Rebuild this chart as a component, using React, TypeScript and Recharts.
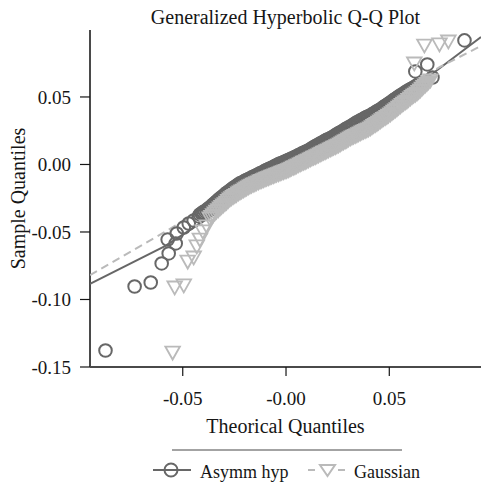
import { ScatterChart, Scatter, XAxis, YAxis, Legend } from "recharts";

const FONT = '"Liberation Serif", "Times New Roman", serif';
const DARK = "#676767";
const LIGHT = "#bababa";
const INK = "#161616";
const AXIS = "#4a4a4a";

const chartTitle = "Generalized Hyperbolic Q-Q Plot";
const xTitle = "Theorical Quantiles";
const yTitle = "Sample Quantiles";
const seriesNames = ["Asymm hyp", "Gaussian"];

const xTicks = [-0.05, 0, 0.05];
const xTickLabels = ["-0.05", "-0.00", "0.05"];
const yTicks = [-0.15, -0.1, -0.05, 0, 0.05];
const yTickLabels = ["-0.15", "-0.10", "-0.05", "0.00", "0.05"];

// asymmetric hyperbolic fit: theoretical vs sample quantiles
const hypTheoretical = [
  -0.0874, -0.0733, -0.0655, -0.0602, -0.0573, -0.0568, -0.0534, -0.0529, -0.0495, -0.0471, -0.0447, -0.0422,
  -0.0417, -0.0409, -0.0401, -0.0393, -0.0385, -0.0377, -0.0369, -0.0361, -0.0353, -0.0345, -0.0337, -0.0328,
  -0.032, -0.0312, -0.0304, -0.0296, -0.0288, -0.028, -0.0272, -0.0264, -0.0256, -0.0248, -0.024, -0.0231,
  -0.0223, -0.0215, -0.0207, -0.0199, -0.0191, -0.0183, -0.0175, -0.0167, -0.0159, -0.0151, -0.0143, -0.0134,
  -0.0126, -0.0118, -0.011, -0.0102, -0.0094, -0.0086, -0.0078, -0.007, -0.0062, -0.0054, -0.0046, -0.0037,
  -0.0029, -0.0021, -0.0013, -0.0005, 0.0003, 0.0011, 0.0019, 0.0027, 0.0035, 0.0043, 0.0051, 0.0059,
  0.0068, 0.0076, 0.0084, 0.0092, 0.01, 0.0108, 0.0117, 0.0125, 0.0133, 0.0141, 0.0149, 0.0157,
  0.0165, 0.0173, 0.0181, 0.0189, 0.0197, 0.0205, 0.0214, 0.0222, 0.023, 0.0238, 0.0246, 0.0254,
  0.0262, 0.027, 0.0278, 0.0286, 0.0294, 0.0302, 0.0311, 0.0319, 0.0327, 0.0335, 0.0343, 0.0351,
  0.0359, 0.0367, 0.0375, 0.0383, 0.0391, 0.0399, 0.0408, 0.0416, 0.0424, 0.0432, 0.044, 0.0448,
  0.0456, 0.0464, 0.0472, 0.048, 0.0488, 0.0496, 0.0505, 0.0513, 0.0521, 0.0529, 0.0537, 0.0545,
  0.0553, 0.0561, 0.0569, 0.0577, 0.0585, 0.0593, 0.0602, 0.061, 0.0618, 0.0626, 0.0634, 0.0642,
  0.065, 0.0626, 0.0684, 0.0709, 0.0864,
];
const hypSample = [
  -0.1378, -0.0904, -0.0874, -0.0733, -0.0556, -0.0659, -0.0585, -0.0511, -0.0467, -0.0437, -0.0415, -0.0385,
  -0.037, -0.0362, -0.0353, -0.0346, -0.0338, -0.0327, -0.0319, -0.0308, -0.0296, -0.0286, -0.0275, -0.0263,
  -0.0252, -0.0243, -0.0233, -0.0221, -0.0211, -0.0203, -0.0194, -0.0184, -0.0175, -0.0167, -0.0158, -0.0148,
  -0.014, -0.0135, -0.0129, -0.0121, -0.0115, -0.011, -0.0104, -0.0097, -0.0091, -0.0086, -0.008, -0.0072,
  -0.0066, -0.0061, -0.0055, -0.0047, -0.0041, -0.0036, -0.003, -0.0025, -0.0019, -0.0012, -0.0006, 0.0001,
  0.0007, 0.0011, 0.0016, 0.0022, 0.0027, 0.0033, 0.0038, 0.0043, 0.0049, 0.0055, 0.0061, 0.0068,
  0.0074, 0.0081, 0.0087, 0.0092, 0.0098, 0.0104, 0.0111, 0.012, 0.0127, 0.0134, 0.0141, 0.0148,
  0.0155, 0.0161, 0.0168, 0.0176, 0.0182, 0.0187, 0.0193, 0.02, 0.0207, 0.0216, 0.0223, 0.023,
  0.0237, 0.0244, 0.0251, 0.026, 0.0267, 0.0274, 0.0281, 0.0288, 0.0296, 0.0305, 0.0312, 0.0318,
  0.0325, 0.0331, 0.0338, 0.0345, 0.0352, 0.0357, 0.0363, 0.0371, 0.0378, 0.0386, 0.0393, 0.04,
  0.0407, 0.0416, 0.0425, 0.0433, 0.0441, 0.045, 0.0459, 0.0468, 0.0477, 0.0485, 0.0493, 0.0502,
  0.0511, 0.0518, 0.0525, 0.0534, 0.0542, 0.0549, 0.0556, 0.0563, 0.057, 0.0578, 0.0586, 0.0593,
  0.06, 0.0689, 0.0741, 0.0644, 0.0919,
];

// gaussian fit
const gaussTheoretical = [
  -0.0549, -0.0539, -0.0495, -0.0476, -0.0447, -0.0432, -0.0417, -0.0403, -0.0383,
  -0.0369, -0.0361, -0.0353, -0.0345, -0.0337, -0.0328, -0.032, -0.0312, -0.0304, -0.0296, -0.0288, -0.028,
  -0.0272, -0.0264, -0.0256, -0.0248, -0.024, -0.0231, -0.0223, -0.0215, -0.0207, -0.0199, -0.0191, -0.0183,
  -0.0175, -0.0167, -0.0159, -0.0151, -0.0143, -0.0134, -0.0126, -0.0118, -0.011, -0.0102, -0.0094, -0.0086,
  -0.0078, -0.007, -0.0062, -0.0054, -0.0046, -0.0037, -0.0029, -0.0021, -0.0013, -0.0005, 0.0003, 0.0011,
  0.0019, 0.0027, 0.0035, 0.0043, 0.0051, 0.0059, 0.0068, 0.0076, 0.0084, 0.0092, 0.01, 0.0108,
  0.0117, 0.0125, 0.0133, 0.0141, 0.0149, 0.0157, 0.0165, 0.0173, 0.0181, 0.0189, 0.0197, 0.0205,
  0.0214, 0.0222, 0.023, 0.0238, 0.0246, 0.0254, 0.0262, 0.027, 0.0278, 0.0286, 0.0294, 0.0302,
  0.0311, 0.0319, 0.0327, 0.0335, 0.0343, 0.0351, 0.0359, 0.0367, 0.0375, 0.0383, 0.0391, 0.0399,
  0.0408, 0.0416, 0.0424, 0.0432, 0.044, 0.0448, 0.0456, 0.0464, 0.0472, 0.048, 0.0488, 0.0496,
  0.0505, 0.0513, 0.0521, 0.0529, 0.0537, 0.0545, 0.0553, 0.0561, 0.0569, 0.0577, 0.0585, 0.0593,
  0.0602, 0.061, 0.0618, 0.0626, 0.0634, 0.0642, 0.065, 0.0658, 0.0666, 0.0674, 0.0682, 0.069,
  0.0699, 0.0621, 0.067, 0.0743, 0.0786,
];
const gaussSample = [
  -0.1393, -0.0911, -0.0896, -0.0719, -0.0689, -0.0607, -0.0556, -0.0496, -0.0459,
  -0.04, -0.0388, -0.0376, -0.0362, -0.035, -0.0338, -0.0326, -0.0315, -0.0303, -0.0293, -0.0282, -0.027,
  -0.0259, -0.025, -0.0241, -0.0233, -0.0225, -0.0215, -0.0207, -0.02, -0.0193, -0.0185, -0.0177, -0.017,
  -0.0163, -0.0157, -0.015, -0.0145, -0.0139, -0.0132, -0.0126, -0.0122, -0.0117, -0.0111, -0.0105, -0.0101,
  -0.0096, -0.0091, -0.0087, -0.0081, -0.0076, -0.0072, -0.0067, -0.0061, -0.0056, -0.0052, -0.0047, -0.0042,
  -0.0037, -0.003, -0.0024, -0.0019, -0.0013, -0.0006, 0.0, 0.0007, 0.0013, 0.0018, 0.0024, 0.003,
  0.0037, 0.0044, 0.005, 0.0055, 0.0061, 0.0068, 0.0074, 0.0081, 0.0087, 0.0092, 0.0098, 0.0104,
  0.0111, 0.0118, 0.0124, 0.0129, 0.0135, 0.0141, 0.0148, 0.0157, 0.0164, 0.017, 0.0177, 0.0185,
  0.0193, 0.02, 0.0206, 0.0211, 0.0217, 0.0224, 0.023, 0.0237, 0.0243, 0.0248, 0.0254, 0.026,
  0.0267, 0.0276, 0.0285, 0.0293, 0.0301, 0.031, 0.0319, 0.0328, 0.0337, 0.0344, 0.0352, 0.0361,
  0.037, 0.0381, 0.0391, 0.04, 0.0409, 0.042, 0.043, 0.0441, 0.0451, 0.0459, 0.0468, 0.0478,
  0.0489, 0.05, 0.051, 0.0518, 0.0527, 0.0537, 0.0548, 0.0561, 0.0574, 0.0585, 0.0596, 0.0609,
  0.0622, 0.0748, 0.0881, 0.0889, 0.0911,
];

// reference lines
const hypLineX = [-0.0949, -0.0586, 0.0707, 0.0944];
const hypLineY = [-0.0885, -0.0604, 0.067, 0.0944];
const gaussLineX = [-0.0949, -0.0595, 0.0745, 0.0944];
const gaussLineY = [-0.0819, -0.0507, 0.0722, 0.0878];

const toPoints = (xs: number[], ys: number[]) => xs.map((x, i) => ({ x, y: ys[i] }));

const hypPoints = toPoints(hypTheoretical, hypSample);
const gaussPoints = toPoints(gaussTheoretical, gaussSample);
const hypLine = toPoints(hypLineX, hypLineY);
const gaussLine = toPoints(gaussLineX, gaussLineY);

const Ring = ({ cx, cy }: any) => (
  <circle cx={cx} cy={cy} r={6.3} fill="none" stroke={DARK} strokeWidth={2} />
);

const DownTriangle = ({ cx, cy }: any) => (
  <path
    d={`M${cx - 7.3},${cy - 6}L${cx + 7.3},${cy - 6}L${cx},${cy + 7}Z`}
    fill="none"
    stroke={LIGHT}
    strokeWidth={1.8}
    strokeLinejoin="miter"
  />
);

const NoDot = () => <g />;

const XTick = ({ x, y, index }: any) => (
  <text x={x} y={y + 29} textAnchor="middle" fill={INK} fontFamily={FONT} fontSize={19}>
    {xTickLabels[index]}
  </text>
);

const YTick = ({ x, y, index }: any) => (
  <text x={x} y={y + 7} textAnchor="end" fill={INK} fontFamily={FONT} fontSize={19}>
    {yTickLabels[index]}
  </text>
);

const XTitle = ({ viewBox }: any) => {
  const vb = viewBox ?? { x: 90, y: 367, width: 391, height: 77 };
  return (
    <text x={vb.x + vb.width / 2} y={vb.y + 66} textAnchor="middle" fill={INK} fontFamily={FONT} fontSize={20}>
      {xTitle}
    </text>
  );
};

const YTitle = ({ viewBox }: any) => {
  const vb = viewBox ?? { x: 0, y: 30, width: 90, height: 337 };
  const cx = vb.x + 25;
  const cy = vb.y + vb.height / 2;
  return (
    <text
      x={cx}
      y={cy}
      transform={`rotate(-90 ${cx} ${cy})`}
      textAnchor="middle"
      fill={INK}
      fontFamily={FONT}
      fontSize={20}
    >
      {yTitle}
    </text>
  );
};

const LegendBox = () => (
  <div style={{ position: "relative", width: 481, height: 45, fontFamily: FONT, fontSize: 18, color: INK }}>
    <div style={{ position: "absolute", left: 172, top: 5, width: 230, height: 2, background: "#a3a3a3" }} />
    <svg style={{ position: "absolute", left: 152, top: 18 }} width={40} height={16}>
      <line x1={1} y1={8} x2={39} y2={8} stroke={DARK} strokeWidth={2} />
      <circle cx={19} cy={8} r={6.5} fill="none" stroke={DARK} strokeWidth={2} />
    </svg>
    <span style={{ position: "absolute", left: 200, top: 19, lineHeight: "18px", whiteSpace: "nowrap" }}>
      {seriesNames[0]}
    </span>
    <svg style={{ position: "absolute", left: 306, top: 18 }} width={40} height={16}>
      <line x1={2} y1={8} x2={9} y2={8} stroke={LIGHT} strokeWidth={2} />
      <path d="M14,3L29,3L21.5,14Z" fill="none" stroke={LIGHT} strokeWidth={2} />
      <line x1={32} y1={8} x2={39} y2={8} stroke={LIGHT} strokeWidth={2} />
    </svg>
    <span style={{ position: "absolute", left: 354, top: 19, lineHeight: "18px", whiteSpace: "nowrap" }}>
      {seriesNames[1]}
    </span>
  </div>
);

export default function App() {
  return (
    <div style={{ position: "absolute", left: 0, top: 0, width: 481, height: 489, background: "#fff" }}>
      <div
        style={{
          position: "absolute",
          left: 90,
          top: 7,
          width: 391,
          textAlign: "center",
          fontFamily: FONT,
          fontSize: 20,
          lineHeight: "20px",
          color: INK,
          whiteSpace: "nowrap",
          zIndex: 2,
        }}
      >
        {chartTitle}
      </div>
      <ScatterChart width={481} height={489} margin={{ top: 30, right: 0, bottom: 0, left: 0 }}>
        <XAxis
          type="number"
          dataKey="x"
          domain={[-0.0949, 0.0944]}
          ticks={xTicks}
          interval={0}
          allowDataOverflow
          height={77}
          tickSize={9}
          tickMargin={0}
          axisLine={{ stroke: AXIS, strokeWidth: 2 }}
          tickLine={{ stroke: INK, strokeWidth: 1.2 }}
          tick={(p: any) => <XTick {...p} />}
          label={{ content: XTitle }}
        />
        <YAxis
          type="number"
          dataKey="y"
          domain={[-0.15, 0.0996]}
          ticks={yTicks}
          interval={0}
          allowDataOverflow
          width={90}
          tickSize={10}
          tickMargin={9}
          axisLine={{ stroke: AXIS, strokeWidth: 2 }}
          tickLine={{ stroke: INK, strokeWidth: 1.2 }}
          tick={(p: any) => <YTick {...p} />}
          label={{ content: YTitle }}
        />
        <Legend verticalAlign="bottom" height={45} content={() => <LegendBox />} />
        <Scatter
          name="hyp-line"
          data={hypLine}
          line={{ stroke: DARK, strokeWidth: 2 }}
          lineType="joint"
          shape={NoDot}
          legendType="none"
          isAnimationActive={false}
        />
        <Scatter
          name="gauss-line"
          data={gaussLine}
          line={{ stroke: LIGHT, strokeWidth: 2, strokeDasharray: "8 5" }}
          lineType="joint"
          shape={NoDot}
          legendType="none"
          isAnimationActive={false}
        />
        <Scatter name={seriesNames[0]} data={hypPoints} shape={Ring} isAnimationActive={false} />
        <Scatter name={seriesNames[1]} data={gaussPoints} shape={DownTriangle} isAnimationActive={false} />
      </ScatterChart>
    </div>
  );
}
